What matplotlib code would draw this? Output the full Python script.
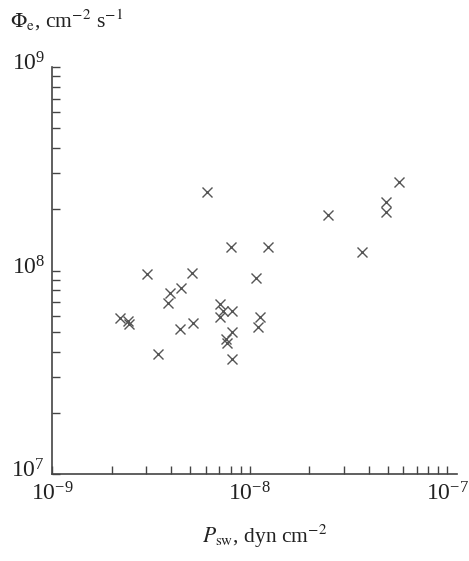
import numpy as np
import matplotlib
matplotlib.use("Agg")
import matplotlib.pyplot as plt
import matplotlib.transforms as mtransforms
from matplotlib.ticker import LogLocator, NullFormatter

plt.rcParams['font.family'] = ['Liberation Serif', 'DejaVu Serif']
plt.rcParams['mathtext.fontset'] = 'stix'

# solar wind pressure (dyn cm^-2) and electron flux (cm^-2 s^-1)
p_sw = [6.1e-9, 8.0e-9, 1.24e-8, 2.5e-8, 3.71e-8, 4.91e-8, 4.91e-8, 5.71e-8,
        3.03e-9, 5.12e-9, 1.08e-8, 4.5e-9, 3.96e-9, 3.87e-9, 2.21e-9, 2.43e-9,
        2.45e-9, 4.45e-9, 5.18e-9, 3.44e-9, 7.09e-9, 7.34e-9, 8.15e-9, 7.09e-9,
        1.13e-8, 1.10e-8, 8.15e-9, 7.60e-9, 7.69e-9, 8.15e-9]
phi_e = [2.42e8, 1.30e8, 1.30e8, 1.87e8, 1.23e8, 2.16e8, 1.95e8, 2.71e8,
         9.67e7, 9.78e7, 9.24e7, 8.25e7, 7.80e7, 6.95e7, 5.87e7, 5.67e7,
         5.48e7, 5.18e7, 5.54e7, 3.90e7, 6.88e7, 6.35e7, 6.35e7, 5.93e7,
         5.93e7, 5.30e7, 5.01e7, 4.62e7, 4.42e7, 3.69e7]

x_ticks = [1e-9, 1e-8, 1e-7]
y_ticks = [1e7, 1e8, 1e9]

fig = plt.figure(figsize=(4.69, 5.61), dpi=100)
ax = fig.add_axes([0.111, 0.155, 0.8635, 0.7255])

ax.plot(p_sw, phi_e, linestyle='none', marker='x', ms=7, mew=1.0, color='#555555')

ax.set_xscale('log')
ax.set_yscale('log')
ax.set_xlim(1e-9, 1.12e-7)
ax.set_ylim(1e7, 1e9)
ax.set_xticks(x_ticks)
ax.set_yticks(y_ticks)
ax.xaxis.set_minor_locator(LogLocator(base=10, subs=np.arange(2, 10)))
ax.yaxis.set_minor_locator(LogLocator(base=10, subs=np.arange(2, 10)))
ax.xaxis.set_minor_formatter(NullFormatter())
ax.yaxis.set_minor_formatter(NullFormatter())

for s in ['top', 'right']:
    ax.spines[s].set_visible(False)
for s in ['left', 'bottom']:
    ax.spines[s].set_color('#444444')
    ax.spines[s].set_linewidth(1.2)

ax.tick_params(which='both', direction='in', length=5.5, width=1.0, color='#444444',
               labelsize=17, labelcolor='#222222')
ax.tick_params(axis='x', pad=6)
ax.tick_params(axis='y', pad=5)

# y labels sit a bit above their ticks in the original
shift = mtransforms.ScaledTranslation(0, 4 / 72, fig.dpi_scale_trans)
for lab in ax.get_yticklabels():
    lab.set_transform(lab.get_transform() + shift)

fig.text(0.021, 0.964, r'$\Phi_{\mathrm{e}}$, cm$^{-2}$ s$^{-1}$', fontsize=15.5,
         color='#222222', va='center', ha='left')
fig.text(0.565, 0.043, r'$P_{\mathrm{sw}}$, dyn cm$^{-2}$', fontsize=15.5,
         color='#222222', va='center', ha='center')

fig.savefig('out.png', dpi=100)
